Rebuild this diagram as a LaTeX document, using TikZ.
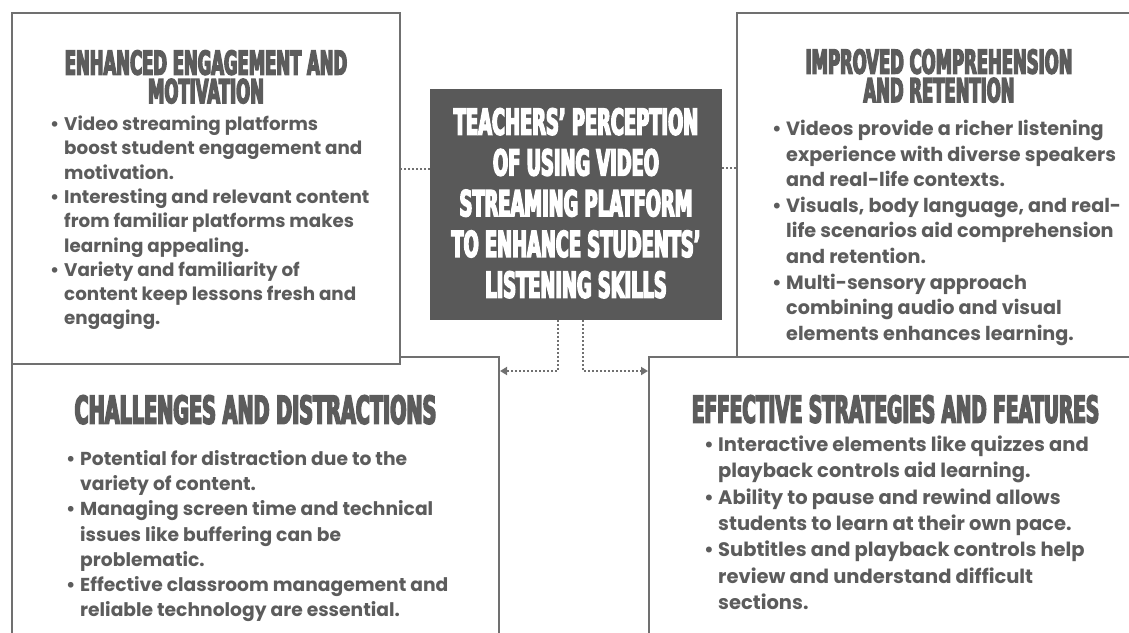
\documentclass[tikz,border=0pt]{standalone}
\usepackage{fontspec}
\usepackage{xcolor}
\usepackage{tikz}
\usetikzlibrary{positioning,shapes,arrows,arrows.meta,calc}
\setmainfont{Poppins}
\newfontfamily\headfont{DejaVu Sans}[FakeStretch=0.5,FakeBold=4]
\definecolor{boxgray}{RGB}{112,112,112}
\definecolor{textgray}{RGB}{92,92,92}
\definecolor{centergray}{RGB}{89,89,89}
\newcommand{\itm}{\makebox[14pt][l]{\textbullet}}
\newcommand{\cnt}{\hspace*{14pt}}
\newcommand{\bodytext}[2]{\bfseries\fontsize{#1}{#2}\selectfont}
\newcommand{\headtext}[2]{\headfont\bfseries\fontsize{#1}{#2}\selectfont}

\begin{document}
\begin{tikzpicture}[x=1pt, y=-1pt]
    \tikzstyle{panel} = [rectangle, draw=boxgray, line width=2pt, fill=white, anchor=north west, inner sep=0pt]
    \tikzstyle{head} = [text=textgray, align=center, inner sep=0pt]
    \tikzstyle{body} = [text=textgray, align=left, anchor=north west, inner sep=0pt]
    \tikzstyle{link} = [draw=boxgray, line width=1.8pt, dash pattern=on 1.8pt off 2.2pt]

    \useasboundingbox (0,0) rectangle (1129,632);
    \clip (0,0) rectangle (1129,632);

    % Bottom panels
    \node [panel, minimum width=487pt, minimum height=300pt] (challenge) at (11,356) {};
    \node [panel, minimum width=493pt, minimum height=300pt] (strategy) at (648,356) {};

    % Top panels
    \node [panel, minimum width=388pt, minimum height=351pt] (engage) at (11,12) {};
    \node [panel, minimum width=404pt, minimum height=344pt] (comprehend) at (736,12) {};

    % Central topic
    \node [panel, draw=centergray, fill=centergray, minimum width=290pt, minimum height=229pt] (topic) at (430,89) {};
    \node [head, text=white, below=19pt of topic.north, font=\headtext{35.7}{40.75}] (topictitle)
        {TEACHERS’ PERCEPTION\\ OF USING VIDEO\\ STREAMING PLATFORM\\ TO ENHANCE STUDENTS’\\ LISTENING SKILLS};

    % Panel titles
    \node [head, below=38pt of engage.north, font=\headtext{32.9}{28.5}] (engagetitle)
        {ENHANCED ENGAGEMENT AND\\ MOTIVATION};
    \node [head, below=37pt of comprehend.north, font=\headtext{32.9}{28.5}] (comprehendtitle)
        {IMPROVED COMPREHENSION\\ AND RETENTION};
    \node [head, below=39pt of challenge.north, font=\headtext{38.4}{30}] (challengetitle)
        {CHALLENGES AND DISTRACTIONS};
    \node [head, below=39pt of strategy.north, font=\headtext{37}{30}] (strategytitle)
        {EFFECTIVE STRATEGIES AND FEATURES};

    % Panel texts
    \node [body, font={\bodytext{18.3}{24.3}}] (engagetext) at (50,115.7) {%
        \itm Video streaming platforms\\
        \cnt boost student engagement and\\
        \cnt motivation.\\
        \itm Interesting and relevant content\\
        \cnt from familiar platforms makes\\
        \cnt learning appealing.\\
        \itm Variety and familiarity of\\
        \cnt content keep lessons fresh and\\
        \cnt engaging.};
    \node [body, font={\bodytext{19.2}{25.6}}] (comprehendtext) at (772,120) {%
        \itm Videos provide a richer listening\\
        \cnt experience with diverse speakers\\
        \cnt and real-life contexts.\\
        \itm Visuals, body language, and real-\\
        \cnt life scenarios aid comprehension\\
        \cnt and retention.\\
        \itm Multi-sensory approach\\
        \cnt combining audio and visual\\
        \cnt elements enhances learning.};
    \node [body, font={\bodytext{18.7}{25.2}}] (challengetext) at (66,450.4) {%
        \itm Potential for distraction due to the\\
        \cnt variety of content.\\
        \itm Managing screen time and technical\\
        \cnt issues like buffering can be\\
        \cnt problematic.\\
        \itm Effective classroom management and\\
        \cnt reliable technology are essential.};
    \node [body, font={\bodytext{19.5}{26.3}}] (strategytext) at (704,435.8) {%
        \itm Interactive elements like quizzes and\\
        \cnt playback controls aid learning.\\
        \itm Ability to pause and rewind allows\\
        \cnt students to learn at their own pace.\\
        \itm Subtitles and playback controls help\\
        \cnt review and understand difficult\\
        \cnt sections.};

    % Connectors
    \coordinate (lmid) at ([yshift=35.5pt]topic.west);
    \coordinate (rmid) at ([yshift=36.5pt]topic.east);
    \draw [link] (lmid) -- (lmid -| engage.east);
    \draw [link] (rmid) -- (rmid -| comprehend.west);
    \coordinate (ltip) at ([yshift=-15pt]challenge.north east);
    \coordinate (rtip) at ([yshift=-15pt]strategy.north west);
    \draw [link, -{Triangle[length=7pt,width=8pt]}] ([xshift=-18pt]topic.south) |- (ltip);
    \draw [link, -{Triangle[length=7pt,width=8pt]}] ([xshift=7pt]topic.south) |- (rtip);
\end{tikzpicture}
\end{document}
